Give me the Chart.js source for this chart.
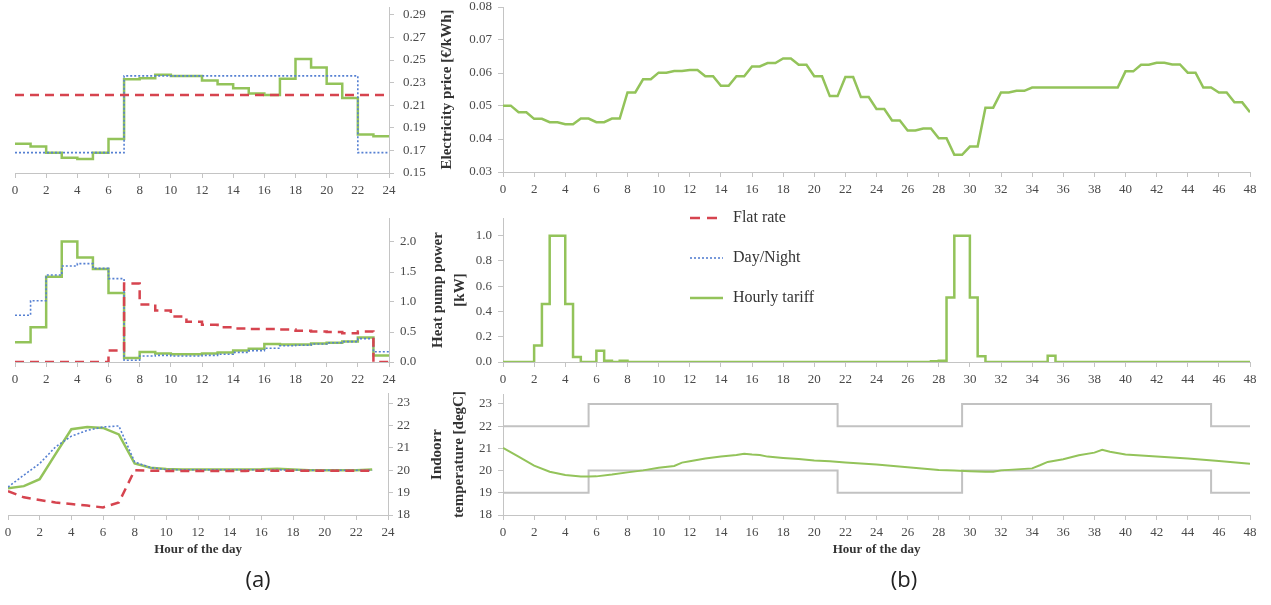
<!DOCTYPE html>
<html>
<head>
<meta charset="utf-8">
<script src="https://cdn.jsdelivr.net/npm/chart.js@4.4.0/dist/chart.umd.min.js"></script>
<style>
  body { margin: 0; background: #fff; width: 1271px; height: 605px; position: relative; overflow: hidden; }
  canvas { position: absolute; }
  .tag { position: absolute; font-family: "Open Sans", sans-serif; font-size: 22px; color: #222; transform: translate(-50%, -50%); }
</style>
</head>
<body>
<canvas id="a1" width="440" height="200" style="left:0;top:0"></canvas>
<canvas id="a2" width="440" height="190" style="left:0;top:200px"></canvas>
<canvas id="a3" width="440" height="215" style="left:0;top:390px"></canvas>
<canvas id="b1" width="851" height="200" style="left:420px;top:0"></canvas>
<canvas id="b2" width="851" height="190" style="left:420px;top:200px"></canvas>
<canvas id="b3" width="851" height="215" style="left:420px;top:390px"></canvas>
<div class="tag" style="left:258px;top:578px">(a)</div>
<div class="tag" style="left:904px;top:578px">(b)</div>
<script>
// ---- (a) one day, hourly values ----
const dayHours = [0, 1, 2, 3, 4, 5, 6, 7, 8, 9, 10, 11, 12, 13, 14, 15, 16, 17, 18, 19, 20, 21, 22, 23];

const priceFlat = [0.219, 0.219, 0.219, 0.219, 0.219, 0.219, 0.219, 0.219, 0.219, 0.219, 0.219, 0.219,
                   0.219, 0.219, 0.219, 0.219, 0.219, 0.219, 0.219, 0.219, 0.219, 0.219, 0.219, 0.219];
const priceDayNight = [0.168, 0.168, 0.168, 0.168, 0.168, 0.168, 0.168, 0.236, 0.236, 0.236, 0.236, 0.236,
                       0.236, 0.236, 0.236, 0.236, 0.236, 0.236, 0.236, 0.236, 0.236, 0.236, 0.168, 0.168];
const priceHourly = [0.176, 0.1735, 0.168, 0.1635, 0.1625, 0.168, 0.18, 0.233, 0.234, 0.237, 0.236, 0.236,
                     0.232, 0.2285, 0.225, 0.2205, 0.219, 0.2335, 0.251, 0.2435, 0.229, 0.2165, 0.184, 0.1825];

const powerFlat = [0, 0, 0, 0, 0, 0, 0.19, 1.31, 0.96, 0.86, 0.76, 0.67,
                   0.62, 0.58, 0.56, 0.55, 0.55, 0.54, 0.52, 0.51, 0.50, 0.48, 0.51, 0];
const powerDayNight = [0.78, 1.02, 1.45, 1.60, 1.64, 1.56, 1.39, 0.03, 0.10, 0.11, 0.10, 0.10,
                       0.11, 0.13, 0.16, 0.19, 0.23, 0.27, 0.28, 0.30, 0.32, 0.34, 0.39, 0.17];
const powerHourly = [0.33, 0.58, 1.42, 2.01, 1.74, 1.55, 1.15, 0.066, 0.166, 0.14, 0.13, 0.13,
                     0.14, 0.16, 0.19, 0.22, 0.30, 0.29, 0.29, 0.31, 0.32, 0.34, 0.41, 0.11];

const tempFlat = [19.07, 18.79, 18.67, 18.56, 18.49, 18.42, 18.34, 18.56, 20.0, 19.98, 19.97, 19.97,
                  19.97, 19.97, 19.97, 19.97, 19.98, 19.98, 19.98, 19.98, 19.98, 19.98, 19.98, 19.98];
const tempDayNight = [19.25, 19.78, 20.30, 21.04, 21.52, 21.78, 21.93, 21.98, 20.37, 20.12, 20.03, 20.02,
                      20.02, 20.02, 20.02, 20.02, 20.02, 20.02, 20.01, 20.0, 20.0, 20.0, 20.0, 20.0];
const tempHourly = [19.19, 19.29, 19.60, 20.72, 21.83, 21.93, 21.89, 21.6, 20.30, 20.11, 20.05, 20.03,
                    20.03, 20.03, 20.03, 20.03, 20.04, 20.07, 20.03, 20.0, 20.0, 20.0, 20.0, 20.03];

// ---- (b) two days, hourly tariff ----
// spot price per hour, held for the first half hour then ramping to the next hour
const spotPrice = [0.0501, 0.0481, 0.0461, 0.0451, 0.0445, 0.0462, 0.0451, 0.0462, 0.0541, 0.0581, 0.0601, 0.0606,
                   0.0609, 0.0590, 0.0561, 0.0590, 0.0620, 0.0630, 0.0644, 0.0625, 0.0590, 0.0530, 0.0588, 0.0527,
                   0.0491, 0.0456, 0.0426, 0.0432, 0.0402, 0.0352, 0.0377, 0.0495, 0.0541, 0.0546, 0.0556, 0.0556,
                   0.0556, 0.0556, 0.0556, 0.0556, 0.0605, 0.0625, 0.0631, 0.0626, 0.0601, 0.0556, 0.0541, 0.0511];
const spotPriceEnd = 0.0481;

// heat pump power per half hour (96 values)
const hpPower = [
  0, 0, 0, 0, 0.13, 0.46, 1.0, 1.0, 0.46, 0.04, 0, 0,          // 0-6 h
  0.09, 0.01, 0, 0.01, 0, 0, 0, 0, 0, 0, 0, 0,                 // 6-12 h
  0, 0, 0, 0, 0, 0, 0, 0, 0, 0, 0, 0,                          // 12-18 h
  0, 0, 0, 0, 0, 0, 0, 0, 0, 0, 0, 0,                          // 18-24 h
  0, 0, 0, 0, 0, 0, 0, 0.005, 0.01, 0.51, 1.0, 1.0,            // 24-30 h
  0.51, 0.045, 0, 0, 0, 0, 0, 0, 0, 0, 0.05, 0,                // 30-36 h
  0, 0, 0, 0, 0, 0, 0, 0, 0, 0, 0, 0,                          // 36-42 h
  0, 0, 0, 0, 0, 0, 0, 0, 0, 0, 0, 0                           // 42-48 h
];

const indoorHours = [0, 1, 2, 3, 4, 5, 5.5, 6, 7, 8, 9, 10, 11, 11.5, 12, 13, 14, 15, 15.5, 16, 16.5, 17, 18, 19, 20, 21, 22,
                     24, 26, 28, 29, 30, 31, 31.5, 32, 34, 34.5, 35, 36, 37, 38, 38.5, 39, 40, 42, 44, 46, 48];
const indoorTemp = [21.02, 20.63, 20.22, 19.95, 19.80, 19.73, 19.73, 19.74, 19.82, 19.92, 20.01, 20.13, 20.21, 20.36,
                    20.42, 20.54, 20.63, 20.70, 20.76, 20.72, 20.70, 20.63, 20.57, 20.52, 20.46, 20.42, 20.36,
                    20.27, 20.15, 20.03, 20.00, 19.97, 19.95, 19.95, 20.01, 20.10, 20.24, 20.39, 20.51, 20.69,
                    20.81, 20.94, 20.85, 20.73, 20.64, 20.54, 20.43, 20.31];

const comfortTimes = [0, 5.5, 21.5, 29.5, 45.5, 48];
const comfortLow = [19, 20, 19, 20, 19];
const comfortHigh = [22, 23, 22, 23, 22];

// tick labels
const ticksA1 = [0.15, 0.17, 0.19, 0.21, 0.23, 0.25, 0.27, 0.29];
const ticksA2 = [0, 0.5, 1.0, 1.5, 2.0];
const ticksTemp = [18, 19, 20, 21, 22, 23];
const ticksB1 = [0.03, 0.04, 0.05, 0.06, 0.07, 0.08];
const ticksB2 = [0, 0.2, 0.4, 0.6, 0.8, 1.0];

const GREEN = '#93c35a', RED = '#d6444f', BLUE = '#5680d2', GRAY = '#c2c2c2', AXIS = '#c4c4c4', TXT = '#4a4a4a';
const SERIF = '"Liberation Serif", "DejaVu Serif", serif';

// value i is held from x[i] to the next x
function steps(vals, dt) {
  const pts = vals.map((v, i) => ({ x: i * dt, y: v }));
  pts.push({ x: vals.length * dt, y: vals[vals.length - 1] });
  return pts;
}

function series(data, color, kind, stepped) {
  const ds = { data, borderColor: color, pointRadius: 0, tension: 0, fill: false, stepped: stepped ? 'before' : false,
               borderWidth: 2.5, borderCapStyle: 'butt' };
  if (kind === 'dash') { ds.borderDash = [9, 6]; }
  if (kind === 'dot') { ds.borderDash = [2, 2]; ds.borderWidth = 1.6; }
  return ds;
}

function xAxis(max, height, withTitle) {
  return {
    type: 'linear', min: 0, max,
    ticks: { stepSize: 2, autoSkip: false, maxRotation: 0, color: TXT, padding: 5, font: { family: SERIF, size: 13 } },
    grid: { drawOnChartArea: false, drawTicks: true, tickLength: 5, color: AXIS },
    border: { color: AXIS },
    title: withTitle ? { display: true, text: 'Hour of the day', color: '#333', padding: { top: 0, bottom: 3 },
                         font: { family: SERIF, size: 13, weight: 'bold' } } : { display: false },
    afterFit: s => { s.height = height; s.paddingLeft = 0; s.paddingRight = 0; }
  };
}

function yAxis(pos, max, tickVals, decimals, width, pad, title, titlePad) {
  return {
    type: 'linear', position: pos, min: tickVals[0], max,
    afterBuildTicks: s => { s.ticks = tickVals.map(v => ({ value: v })); },
    ticks: { color: TXT, padding: pad, font: { family: SERIF, size: 13 }, callback: v => Number(v).toFixed(decimals) },
    grid: { drawOnChartArea: false, drawTicks: true, tickLength: 5, color: AXIS },
    border: { color: AXIS },
    title: title ? { display: true, text: title, color: '#333', padding: { top: titlePad, bottom: 0 },
                     font: { family: SERIF, size: 15, weight: 'bold', lineHeight: 1.45 } } : { display: false },
    afterFit: s => { s.width = width; s.paddingTop = 0; s.paddingBottom = 0; }
  };
}

function makeChart(id, datasets, x, y, padding, plugins) {
  return new Chart(document.getElementById(id), {
    type: 'line',
    data: { datasets },
    options: {
      responsive: false, animation: false,
      layout: { padding },
      plugins: { legend: { display: false }, tooltip: { enabled: false } },
      scales: { x, y }
    },
    plugins: plugins || []
  });
}

// (a) panels
makeChart('a1', [
  series(steps(priceFlat, 1), RED, 'dash', true),
  series(steps(priceDayNight, 1), BLUE, 'dot', true),
  series(steps(priceHourly, 1), GREEN, 'solid', true)
], xAxis(24, 27), yAxis('right', 0.297, ticksA1, 2, 51, 9), { left: 15, top: 7, right: 0, bottom: 0 });

makeChart('a2', [
  series(steps(powerFlat, 1), RED, 'dash', true),
  series(steps(powerDayNight, 1), BLUE, 'dot', true),
  series(steps(powerHourly, 1), GREEN, 'solid', true)
], xAxis(24, 28), yAxis('right', 2.4, ticksA2, 1, 51, 6), { left: 15, top: 18, right: 0, bottom: 0 });

makeChart('a3', [
  series(dayHours.map((h, i) => ({ x: h, y: tempFlat[i] })), RED, 'dash', false),
  series(dayHours.map((h, i) => ({ x: h, y: tempDayNight[i] })), BLUE, 'dot', false),
  series(dayHours.map((h, i) => ({ x: h, y: tempHourly[i] })), GREEN, 'solid', false)
], xAxis(24, 45, true), yAxis('right', 23.45, ticksTemp, 0, 52, 4), { left: 8, top: 3, right: 0, bottom: 45 });

// (b) panels
const spotPts = [];
spotPrice.forEach((v, h) => { spotPts.push({ x: h, y: v }, { x: h + 0.5, y: v }); });
spotPts.push({ x: 48, y: spotPriceEnd });

makeChart('b1', [series(spotPts, GREEN, 'solid', false)],
  xAxis(48, 28), yAxis('left', 0.08, ticksB1, 2, 71, 6, 'Electricity price [€/kWh]', 4),
  { left: 12, top: 7, right: 21, bottom: 0 });

const legendItems = [
  { label: 'Flat rate', color: RED, kind: 'dash' },
  { label: 'Day/Night', color: BLUE, kind: 'dot' },
  { label: 'Hourly tariff', color: GREEN, kind: 'solid' }
];
const figLegend = {
  id: 'figLegend',
  afterDraw(chart) {
    const ctx = chart.ctx;
    legendItems.forEach((it, i) => {
      const y = 18 + i * 40;
      ctx.save();
      ctx.strokeStyle = it.color;
      ctx.lineWidth = it.kind === 'dot' ? 1.6 : 2.5;
      ctx.setLineDash(it.kind === 'dash' ? [10, 7] : it.kind === 'dot' ? [2, 2] : []);
      ctx.beginPath(); ctx.moveTo(270, y); ctx.lineTo(303, y); ctx.stroke();
      ctx.setLineDash([]);
      ctx.fillStyle = '#333';
      ctx.font = '16px ' + SERIF;
      ctx.textBaseline = 'middle';
      ctx.fillText(it.label, 313, y);
      ctx.restore();
    });
  }
};

makeChart('b2', [series(steps(hpPower, 0.5), GREEN, 'solid', true)],
  xAxis(48, 28), yAxis('left', 1.14, ticksB2, 1, 79, 6, ['Heat pump power', '[kW]'], 3),
  { left: 4, top: 18, right: 21, bottom: 0 }, [figLegend]);

const lowPts = steps(comfortLow, 1).map((p, i) => ({ x: comfortTimes[i], y: p.y }));
const highPts = steps(comfortHigh, 1).map((p, i) => ({ x: comfortTimes[i], y: p.y }));
const b3Low = series(lowPts, GRAY, 'solid', true); b3Low.borderWidth = 2;
const b3High = series(highPts, GRAY, 'solid', true); b3High.borderWidth = 2;
const b3Temp = series(indoorHours.map((h, i) => ({ x: h, y: indoorTemp[i] })), GREEN, 'solid', false);
b3Temp.borderWidth = 2;

makeChart('b3', [b3Temp, b3Low, b3High],
  xAxis(48, 45, true), yAxis('left', 23.45, ticksTemp, 0, 80, 6, ['Indoorr', 'temperature [degC]'], 3),
  { left: 3, top: 4, right: 21, bottom: 45 });
</script>
</body>
</html>
